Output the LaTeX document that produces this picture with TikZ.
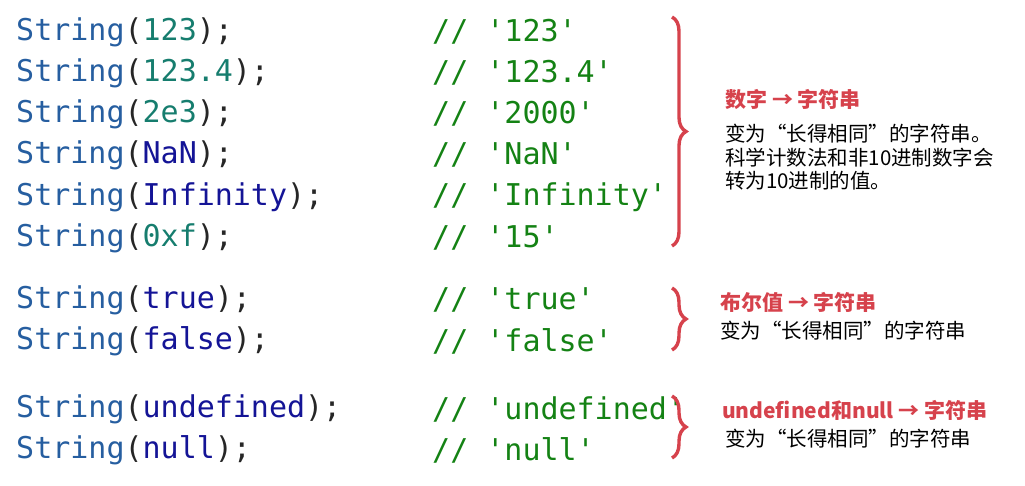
\documentclass[tikz,border=0pt]{standalone}
\usepackage{fontspec}
\setmonofont{DejaVu Sans Mono}
\newfontfamily\cjk{Noto Sans CJK SC}
\usetikzlibrary{decorations.pathreplacing}
\definecolor{fnblue}{RGB}{38,94,160}
\definecolor{numteal}{RGB}{22,125,110}
\definecolor{kwnavy}{RGB}{20,20,150}
\definecolor{cmtgreen}{RGB}{20,130,20}
\definecolor{bracered}{RGB}{214,66,76}
\newcommand{\fn}{\textcolor{fnblue}{String}}
\newcommand{\nm}[1]{\textcolor{numteal}{#1}}
\newcommand{\kw}[1]{\textcolor{kwnavy}{#1}}
\begin{document}
\begin{tikzpicture}[x=1pt,y=-1pt,
    code/.style={anchor=west, inner sep=0pt, font=\ttfamily\fontsize{30}{30}\selectfont, text=black!85},
    cmt/.style={code, text=cmtgreen},
    bracket/.style={draw=bracered, line width=3.4pt, decorate, decoration={brace, amplitude=14pt}},
    title/.style={anchor=west, inner sep=0pt, font=\cjk\bfseries\fontsize{21}{21}\selectfont, text=bracered},
    note/.style={anchor=north west, inner sep=0pt, align=left, font=\cjk\fontsize{20.5}{23.5}\selectfont}]
    \useasboundingbox (0,0) rectangle (1025,486);

    % numbers
    \node[code] (n1) at (16,32) {\fn(\nm{123});};
    \node[code] (n2) at (16,73) {\fn(\nm{123.4});};
    \node[code] (n3) at (16,114) {\fn(\nm{2e3});};
    \node[code] (n4) at (16,155) {\fn(\kw{NaN});};
    \node[code] (n5) at (16,197) {\fn(\kw{Infinity});};
    \node[code] (n6) at (16,238) {\fn(\nm{0xf});};
    \node[cmt] (c1) at (432,32) {// '123'};
    \node[cmt] (c2) at (432,73) {// '123.4'};
    \node[cmt] (c3) at (432,114) {// '2000'};
    \node[cmt] (c4) at (432,155) {// 'NaN'};
    \node[cmt] (c5) at (432,197) {// 'Infinity'};
    \node[cmt] (c6) at (432,238) {// '15'};

    % booleans
    \node[code] (b1) at (16,300) {\fn(\kw{true});};
    \node[code] (b2) at (16,341) {\fn(\kw{false});};
    \node[cmt] (d1) at (432,300) {// 'true'};
    \node[cmt] (d2) at (432,341) {// 'false'};

    % undefined and null
    \node[code] (u1) at (16,409) {\fn(\kw{undefined});};
    \node[code] (u2) at (16,450) {\fn(\kw{null});};
    \node[cmt] (v1) at (432,409) {// 'undefined'};
    \node[cmt] (v2) at (432,450) {// 'null'};

    % brackets
    \coordinate (t1) at (672,17);
    \coordinate (e1) at (672,246);
    \coordinate (t2) at (672,288);
    \coordinate (e2) at (672,350);
    \coordinate (t3) at (672,396);
    \coordinate (e3) at (672,458);
    \draw[bracket] (t1) -- (e1);
    \draw[bracket] (t2) -- (e2);
    \draw[bracket] (t3) -- (e3);

    % notes
    \node[title] (h1) at (725,100) {数字 → 字符串};
    \node[note] (p1) at (725,124) {变为“长得相同”的字符串。\\科学计数法和非10进制数字会\\转为10进制的值。};
    \node[title] (h2) at (720,302) {布尔值 → 字符串};
    \node[note] (p2) at (720,321) {变为“长得相同”的字符串};
    \node[title] (h3) at (722,410) {undefined和null → 字符串};
    \node[note] (p3) at (725,429) {变为“长得相同”的字符串};
\end{tikzpicture}
\end{document}
